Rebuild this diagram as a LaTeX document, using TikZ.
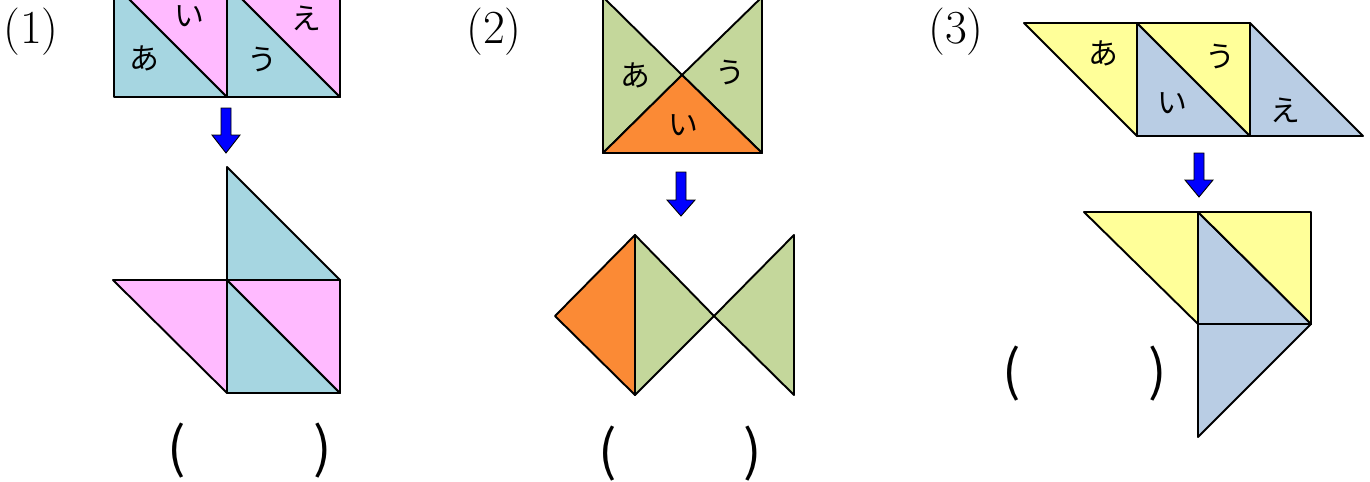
\documentclass[tikz,border=0pt]{standalone}
\usepackage{fontspec}
\usepackage{tikz}
\newfontfamily\jpfont{Noto Sans CJK JP}
\definecolor{tanblue}{HTML}{A6D6E1}
\definecolor{tanpink}{HTML}{FFBAFF}
\definecolor{tangreen}{HTML}{C4D79B}
\definecolor{tanorange}{HTML}{FB8A35}
\definecolor{tanyellow}{HTML}{FFFF99}
\definecolor{tansteel}{HTML}{B9CDE4}
\definecolor{tanarrow}{HTML}{0000FF}
% block arrow: x, shaft top, head start, tip
\newcommand{\blkarrow}[4]{%
  \draw[downarrow] (#1-5,#2) -- (#1+5,#2) -- (#1+5,#3) -- (#1+14,#3)
    -- (#1,#4) -- (#1-14,#3) -- (#1-5,#3) -- cycle;}

\begin{document}
\begin{tikzpicture}[
  x=0.02cm, y=-0.02cm,
  piece/.style={draw=black, line width=1.1pt, line join=round},
  bluepiece/.style={piece, fill=tanblue},
  pinkpiece/.style={piece, fill=tanpink},
  greenpiece/.style={piece, fill=tangreen},
  orangepiece/.style={piece, fill=tanorange},
  yellowpiece/.style={piece, fill=tanyellow},
  steelpiece/.style={piece, fill=tansteel},
  downarrow/.style={draw=black, line width=0.5pt, fill=tanarrow},
  kana/.style={font=\jpfont\fontsize{17}{17}\selectfont, inner sep=0pt},
  num/.style={font=\fontsize{27}{27}\selectfont, inner sep=0pt},
  blank/.style={font=\jpfont\fontsize{31}{31}\selectfont, inner sep=0pt}
]
\useasboundingbox (0,0) rectangle (1370,481);
\clip (0,0) rectangle (1370,481);

% (1)
\node[num] (n1) at (31,32) {(1)};
\draw[bluepiece] (114,-16) -- (114,97) -- (227,97) -- cycle;
\draw[pinkpiece] (114,-16) -- (227,-16) -- (227,97) -- cycle;
\draw[bluepiece] (227,-16) -- (227,97) -- (340,97) -- cycle;
\draw[pinkpiece] (227,-16) -- (340,-16) -- (340,97) -- cycle;
\node[kana] (p1a) at (144,58) {あ};
\node[kana] (p1i) at (189,16) {い};
\node[kana] (p1u) at (262,60) {う};
\node[kana] (p1e) at (306,18) {え};
\blkarrow{226}{108}{135}{153}
\draw[bluepiece] (227,167) -- (227,280) -- (340,280) -- cycle;
\draw[pinkpiece] (113,280) -- (227,280) -- (227,393) -- cycle;
\draw[bluepiece] (227,280) -- (227,393) -- (340,393) -- cycle;
\draw[pinkpiece] (227,280) -- (340,280) -- (340,393) -- cycle;
\node[blank] (a1open) at (177,451) {(};
\node[blank] (a1close) at (323,451) {)};

% (2)
\node[num] (n2) at (494,32) {(2)};
\draw[greenpiece] (603,-3) -- (603,153) -- (682,75) -- cycle;
\draw[greenpiece] (762,-3) -- (762,153) -- (682,75) -- cycle;
\draw[orangepiece] (603,153) -- (762,153) -- (682,75) -- cycle;
\node[kana] (p2a) at (635,75) {あ};
\node[kana] (p2i) at (683,125) {い};
\node[kana] (p2u) at (730,73) {う};
\blkarrow{681}{172}{200}{216}
\draw[orangepiece] (635,235) -- (555,316) -- (635,395) -- cycle;
\draw[greenpiece] (635,235) -- (714,316) -- (635,395) -- cycle;
\draw[greenpiece] (714,316) -- (794,235) -- (794,395) -- cycle;
\node[blank] (a2open) at (608,454) {(};
\node[blank] (a2close) at (753,454) {)};

% (3)
\node[num] (n3) at (956,32) {(3)};
\draw[yellowpiece] (1024,23) -- (1137,23) -- (1137,136) -- cycle;
\draw[steelpiece] (1137,23) -- (1137,136) -- (1250,136) -- cycle;
\draw[yellowpiece] (1137,23) -- (1250,23) -- (1250,136) -- cycle;
\draw[steelpiece] (1250,23) -- (1250,136) -- (1363,136) -- cycle;
\node[kana] (p3a) at (1103,53) {あ};
\node[kana] (p3i) at (1172,103) {い};
\node[kana] (p3u) at (1220,57) {う};
\node[kana] (p3e) at (1285,110) {え};
\blkarrow{1199}{153}{180}{197}
\draw[yellowpiece] (1084,212) -- (1198,212) -- (1198,324) -- cycle;
\draw[steelpiece] (1198,212) -- (1198,324) -- (1311,324) -- cycle;
\draw[yellowpiece] (1198,212) -- (1311,212) -- (1311,324) -- cycle;
\draw[steelpiece] (1198,324) -- (1311,324) -- (1198,437) -- cycle;
\node[blank] (a3open) at (1012,374) {(};
\node[blank] (a3close) at (1158,374) {)};
\end{tikzpicture}
\end{document}
